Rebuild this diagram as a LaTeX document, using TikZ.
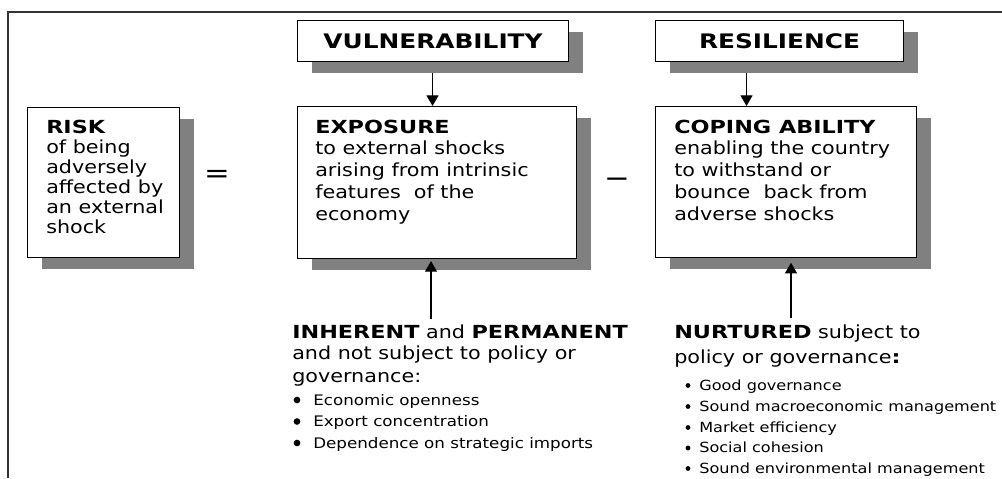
\documentclass[tikz,border=0pt]{standalone}
\usepackage{fontspec}
\setmainfont{DejaVu Sans}[FakeStretch=1.15, BoldFeatures={FakeStretch=1.24}]
\usetikzlibrary{shadows,arrows.meta}
\begin{document}
\begin{tikzpicture}[x=0.75pt,y=-0.75pt,
  box/.style={draw=black, line width=0.8pt, fill=white, inner sep=0pt, anchor=north west,
    drop shadow={shadow xshift=10.5pt, shadow yshift=-8.25pt, fill=black!50, opacity=1}},
  titlefont/.style={font=\fontsize{15}{18}\selectfont\bfseries},
  boxtext/.style={anchor=base west, inner sep=0pt, align=left, font=\fontsize{13.5}{16.3}\selectfont},
  risktext/.style={boxtext, font=\fontsize{13.5}{15}\selectfont},
  lowtext/.style={anchor=base west, inner sep=0pt, align=left, font=\fontsize{13.5}{15.75}\selectfont},
  itemL/.style={anchor=base west, inner sep=0pt, font=\fontsize{10.9}{13}\selectfont},
  itemR/.style={anchor=base west, inner sep=0pt, font=\fontsize{10.5}{12}\selectfont},
  dotL/.style={circle, fill=black, inner sep=0pt, minimum size=5pt},
  dotR/.style={circle, fill=black, inner sep=0pt, minimum size=3.6pt},
  sign/.style={inner sep=0pt, font=\fontsize{20}{20}\selectfont},
  arr/.style={line width=0.9pt, -{Triangle[length=8pt,width=9pt]}},
  frame/.style={draw=black!80, line width=0.8pt}
]
\useasboundingbox (0,0) rectangle (1002,478);
% frame
\draw[frame] (8,478) -- (8,12) -- (1002,12);

% top boxes
\node[box, titlefont, minimum width=203.25pt, minimum height=30.75pt] (vul) at (297,20) {VULNERABILITY};
\node[box, titlefont, minimum width=186pt, minimum height=30.75pt] (res) at (655,20) {RESILIENCE};

% main boxes
\node[box, minimum width=114pt, minimum height=112.5pt] (risk) at (27,107) {};
\node[box, minimum width=209.25pt, minimum height=114pt] (exp) at (297,106) {};
\node[box, minimum width=195.75pt, minimum height=113.25pt] (cop) at (655,106) {};

% box texts (anchored at the baseline of the last line)
\node[risktext] (risktxt) at (46,233) {\textbf{RISK}\\of being\\adversely\\affected by\\an external\\shock};
\node[boxtext] (exptxt) at (315,220) {\textbf{EXPOSURE}\\to external shocks\\arising from intrinsic\\features\ \ of the\\economy};
\node[boxtext] (coptxt) at (674,220) {\textbf{COPING ABILITY}\\enabling the country\\to withstand or\\bounce\ \ back from\\adverse shocks};

% signs
\node[sign] (eq) at (217,176) {=};
\node[sign] (minus) at (617,183) {−};

% lower texts
\node[lowtext] (inh) at (292,382) {\textbf{INHERENT} and \textbf{PERMANENT}\\and not subject to policy or\\[1.5pt]governance:};
\node[lowtext] (nur) at (674,363) {\textbf{NURTURED} subject to\\[3pt]policy or governance\textbf{:}};

% left bullets
\node[dotL] (dl1) at (297,400) {};
\node[dotL] (dl2) at (297,421.5) {};
\node[dotL] (dl3) at (297,443) {};
\node[itemL] (il1) at (313,405) {Economic openness};
\node[itemL] (il2) at (313,426.5) {Export concentration};
\node[itemL] (il3) at (313,448) {Dependence on strategic imports};

% right bullets
\node[dotR] (dr1) at (688,385.5) {};
\node[dotR] (dr2) at (688,406.5) {};
\node[dotR] (dr3) at (688,427.5) {};
\node[dotR] (dr4) at (688,448) {};
\node[dotR] (dr5) at (688,468.5) {};
\node[itemR] (ir1) at (699,390) {Good governance};
\node[itemR] (ir2) at (699,411) {Sound macroeconomic management};
\node[itemR] (ir3) at (699,432) {Market efficiency};
\node[itemR] (ir4) at (699,452.5) {Social cohesion};
\node[itemR] (ir5) at (699,473) {Sound environmental management};

% arrows
\coordinate (vulfoot) at ([shift={(-0.5,11)}]vul.south);
\coordinate (resfoot) at ([shift={(-33,11)}]res.south);
\draw[arr] (vulfoot) -- (vulfoot |- exp.north);
\draw[arr] (resfoot) -- (resfoot |- cop.north);
\coordinate (inhtop) at (431,319);
\coordinate (nurtop) at (791,318);
\draw[arr] (inhtop) -- ([yshift=-1.5pt]inhtop |- exp.south);
\draw[arr] (nurtop) -- ([yshift=-3.5pt]nurtop |- cop.south);
\end{tikzpicture}
\end{document}
